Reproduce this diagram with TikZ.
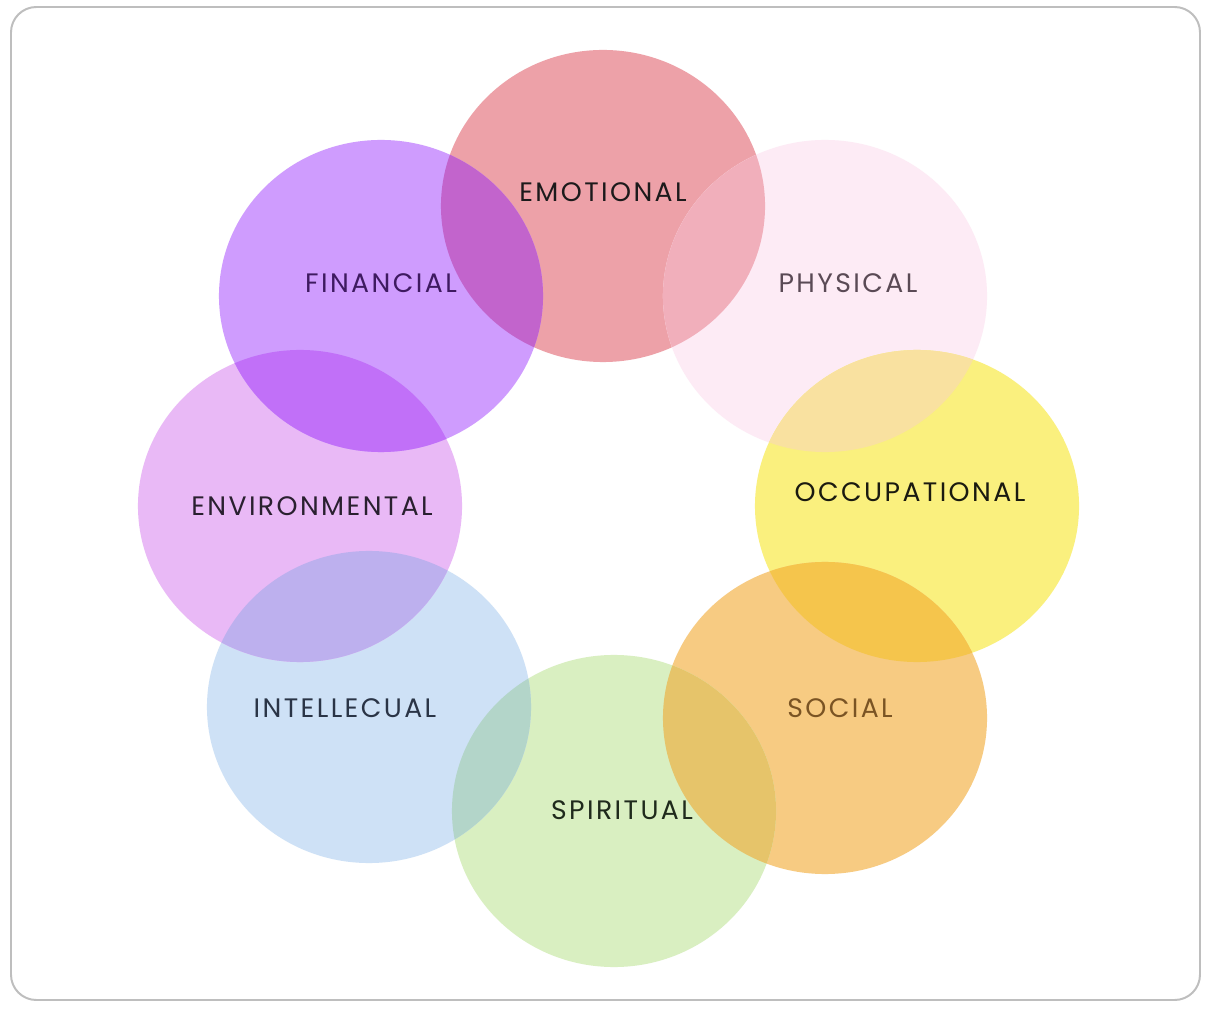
\documentclass[tikz,border=0pt]{standalone}
\usepackage{fontspec}
\setmainfont{Poppins}[LetterSpace=9]
\usetikzlibrary{positioning}

\definecolor{framegray}{HTML}{BEBEBE}
\definecolor{emoC}{HTML}{EDA1A8}
\definecolor{phyC}{HTML}{FDEBF5}
\definecolor{occC}{HTML}{FAF07E}
\definecolor{socC}{HTML}{F7CB82}
\definecolor{spiC}{HTML}{D9EFC1}
\definecolor{intC}{HTML}{CEE1F6}
\definecolor{envC}{HTML}{E9B9F6}
\definecolor{finC}{HTML}{CF9CFE}
% overlap colours
\definecolor{finemoC}{HTML}{C264CC}
\definecolor{emophyC}{HTML}{F1AFBB}
\definecolor{phyoccC}{HTML}{F9E1A0}
\definecolor{occsocC}{HTML}{F5C54C}
\definecolor{socspiC}{HTML}{E6C46A}
\definecolor{spiintC}{HTML}{B3D5C9}
\definecolor{intenvC}{HTML}{BDB0EE}
\definecolor{envfinC}{HTML}{C170F8}
% label colours
\definecolor{emoT}{HTML}{1C1A1B}
\definecolor{phyT}{HTML}{5A4A55}
\definecolor{occT}{HTML}{1A1A10}
\definecolor{socT}{HTML}{7A5424}
\definecolor{spiT}{HTML}{1F2A1C}
\definecolor{intT}{HTML}{2A3446}
\definecolor{envT}{HTML}{2A2030}
\definecolor{finT}{HTML}{3E1A60}

\newcommand{\petal}[1]{(#1) ellipse [x radius=4.05cm, y radius=3.9cm]}

\begin{document}
\begin{tikzpicture}[x=0.025cm, y=-0.025cm,
  petal label/.style={font=\fontsize{19}{23}\selectfont, inner sep=0pt, anchor=center}]

    \fill[white] (0,0) rectangle (1211,1016);
    \draw[framegray, line width=1.4pt, rounded corners=18pt] (11,7) rectangle (1200,1000);

    \coordinate (emo) at (603,206);
    \coordinate (phy) at (825,296);
    \coordinate (occ) at (917,506);
    \coordinate (soc) at (825,718);
    \coordinate (spi) at (614,811);
    \coordinate (int) at (369,707);
    \coordinate (env) at (300,506);
    \coordinate (fin) at (381,296);

    \foreach \p in {emo,phy,occ,soc,spi,int,env,fin} {
        \fill[\p C] \petal{\p};
    }

    % where two circles meet
    \foreach \a/\b in {fin/emo, emo/phy, phy/occ, occ/soc, soc/spi, spi/int, int/env, env/fin} {
        \begin{scope}
            \clip \petal{\a};
            \fill[\a\b C] \petal{\b};
        \end{scope}
    }

    \node[petal label, text=emoT] (emoLabel) at (603,192) {EMOTIONAL};
    \node[petal label, text=phyT] (phyLabel) at (848,283) {PHYSICAL};
    \node[petal label, text=occT] (occLabel) at (910,492) {OCCUPATIONAL};
    \node[petal label, text=socT] (socLabel) at (840,708) {SOCIAL};
    \node[petal label, text=spiT] (spiLabel) at (622,810) {SPIRITUAL};
    \node[petal label, text=intT] (intLabel) at (345,708) {INTELLECUAL};
    \node[petal label, text=envT] (envLabel) at (312,506) {ENVIRONMENTAL};
    \node[petal label, text=finT] (finLabel) at (381,283) {FINANCIAL};
\end{tikzpicture}
\end{document}
